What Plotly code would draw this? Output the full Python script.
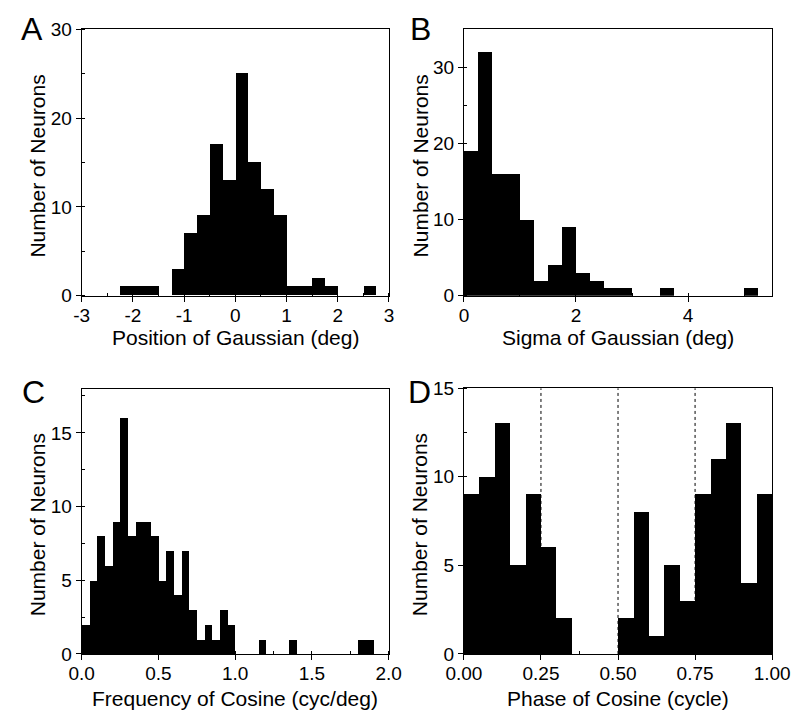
import plotly.graph_objects as go

# ---------------- data ----------------
# Panel A: Position of Gaussian (deg), bins of 0.25 starting at -2.25
a_bin_start = -2.25
a_bin_width = 0.25
a_counts = [1, 1, 1, 0, 3, 7, 9, 17, 13, 25, 15, 12, 9, 1, 1, 2, 1, 0, 0, 1]

# Panel B: Sigma of Gaussian (deg), bins of 0.25 starting at 0
b_bin_start = 0.0
b_bin_width = 0.25
b_counts = [19, 32, 16, 16, 10, 2, 4, 9, 3, 2, 1, 1, 0, 0, 1, 0, 0, 0, 0, 0, 1]

# Panel C: Frequency of Cosine (cyc/deg), bins of 0.05 starting at 0
c_bin_start = 0.0
c_bin_width = 0.05
c_counts = [2, 5, 8, 6, 9, 16, 8, 9, 9, 8, 5, 7, 4, 7, 3, 1, 2, 1, 3, 2,
            0, 0, 0, 1, 0, 0, 0, 1, 0, 0, 0, 0, 0, 0, 0, 0, 1, 1]

# Panel D: Phase of Cosine (cycle), bins of 0.05 starting at 0
d_bin_start = 0.0
d_bin_width = 0.05
d_counts = [9, 10, 13, 5, 9, 6, 2, 0, 0, 0, 2, 8, 1, 5, 3, 9, 11, 13, 4, 9]
d_marker_lines = [0.25, 0.50, 0.75]

# tick labels
a_xticks = [-3, -2, -1, 0, 1, 2, 3]
a_xticktext = ["-3", "-2", "-1", "0", "1", "2", "3"]
a_yticks = [0, 10, 20, 30]
b_xticks = [0, 2, 4]
b_xticktext = ["0", "2", "4"]
b_yticks = [0, 10, 20, 30]
c_xticks = [0, 0.5, 1.0, 1.5, 2.0]
c_xticktext = ["0.0", "0.5", "1.0", "1.5", "2.0"]
c_yticks = [0, 5, 10, 15]
d_xticks = [0, 0.25, 0.5, 0.75, 1.0]
d_xticktext = ["0.00", "0.25", "0.50", "0.75", "1.00"]
d_yticks = [0, 5, 10, 15]

x_titles = ["Position of Gaussian (deg)", "Sigma of Gaussian (deg)",
            "Frequency of Cosine (cyc/deg)", "Phase of Cosine (cycle)"]
y_title = "Number of Neurons"
panel_letters = ["A", "B", "C", "D"]

# ---------------- figure ----------------
W, H = 808, 720
FONT = "Liberation Sans, Arial, Helvetica, sans-serif"


def px_x(v):
    return v / W


def px_y(v):
    return 1 - v / H


def centers(start, width, counts):
    return [start + (i + 0.5) * width for i in range(len(counts))]


fig = go.Figure()

panels = [
    dict(counts=a_counts, start=a_bin_start, width=a_bin_width, xr=[-3, 3], yr=[0, 30],
         xt=a_xticks, xtt=a_xticktext, yt=a_yticks, xminor=0.5, yminor=5,
         dom_x=[66.7, 388.3], dom_y=[20, 294.3]),
    dict(counts=b_counts, start=b_bin_start, width=b_bin_width, xr=[0, 5.5], yr=[0, 35],
         xt=b_xticks, xtt=b_xticktext, yt=b_yticks, xminor=1, yminor=5,
         dom_x=[466.7, 789.3], dom_y=[19.5, 294.3]),
    dict(counts=c_counts, start=c_bin_start, width=c_bin_width, xr=[0, 2.0], yr=[0, 18],
         xt=c_xticks, xtt=c_xticktext, yt=c_yticks, xminor=0.25, yminor=2.5,
         dom_x=[66.7, 388.0], dom_y=[390, 663.3]),
    dict(counts=d_counts, start=d_bin_start, width=d_bin_width, xr=[0, 1.0], yr=[0, 15],
         xt=d_xticks, xtt=d_xticktext, yt=d_yticks, xminor=0.125, yminor=2.5,
         dom_x=[466.7, 789.3], dom_y=[389.5, 663.3]),
]

letter_pos = [(15, 20), (421, 20), (16, 393), (420, 393)]
ytitle_x = [20, 421, 20, 421]
xtitle_y = [337, 337, 709, 709]

annotations = []
shapes = []

for i, p in enumerate(panels):
    n = "" if i == 0 else str(i + 1)
    xa, ya = "x" + n, "y" + n
    fig.add_trace(go.Bar(
        x=centers(p["start"], p["width"], p["counts"]), y=p["counts"],
        width=p["width"], marker=dict(color="black", line=dict(width=0)),
        xaxis=xa, yaxis=ya, showlegend=False, hoverinfo="x+y"))

    common = dict(showgrid=False, zeroline=False, showline=True, linecolor="black",
                  linewidth=1, mirror=True, ticks="outside", ticklen=5, tickwidth=1,
                  tickcolor="black", tickfont=dict(family=FONT, size=19, color="black"))
    fig.update_layout(**{
        "xaxis" + n: dict(domain=[px_x(p["dom_x"][0]), px_x(p["dom_x"][1])],
                          range=p["xr"], anchor=ya, tickmode="array",
                          tickvals=p["xt"], ticktext=p["xtt"], ticklabelstandoff=-3,
                          minor=dict(ticks="inside", ticklen=3, dtick=p["xminor"],
                                     tick0=0, tickcolor="black"),
                          **common),
        "yaxis" + n: dict(domain=[px_y(p["dom_y"][1]), px_y(p["dom_y"][0])],
                          range=p["yr"], anchor=xa, tickmode="array",
                          tickvals=p["yt"],
                          minor=dict(ticks="inside", ticklen=3, dtick=p["yminor"],
                                     tick0=0, tickcolor="black"),
                          **common),
    })

    xc = (p["dom_x"][0] + p["dom_x"][1]) / 2
    yc = (p["dom_y"][0] + p["dom_y"][1]) / 2
    annotations.append(dict(text=x_titles[i], x=px_x(xc), y=px_y(xtitle_y[i]),
                            xref="paper", yref="paper", showarrow=False,
                            xanchor="center", yanchor="middle",
                            font=dict(family=FONT, size=21, color="black")))
    annotations.append(dict(text=y_title, x=px_x(ytitle_x[i]), y=px_y(yc + 4),
                            xref="paper", yref="paper", showarrow=False, textangle=-90,
                            xanchor="center", yanchor="middle",
                            font=dict(family=FONT, size=21, color="black")))
    lx, ly = letter_pos[i]
    annotations.append(dict(text=panel_letters[i], x=px_x(lx), y=px_y(ly),
                            xref="paper", yref="paper", showarrow=False,
                            xanchor="center", yanchor="middle",
                            font=dict(family=FONT, size=32, color="black")))

for xv in d_marker_lines:
    shapes.append(dict(type="line", xref="x4", yref="y4", x0=xv, x1=xv, y0=0, y1=15,
                       line=dict(color="black", width=1, dash="dot"), layer="below"))

fig.update_layout(width=W, height=H, margin=dict(l=0, r=0, t=0, b=0),
                  paper_bgcolor="white", plot_bgcolor="white", bargap=0,
                  annotations=annotations, shapes=shapes,
                  font=dict(family=FONT, color="black"))

fig.write_html("out.html")
